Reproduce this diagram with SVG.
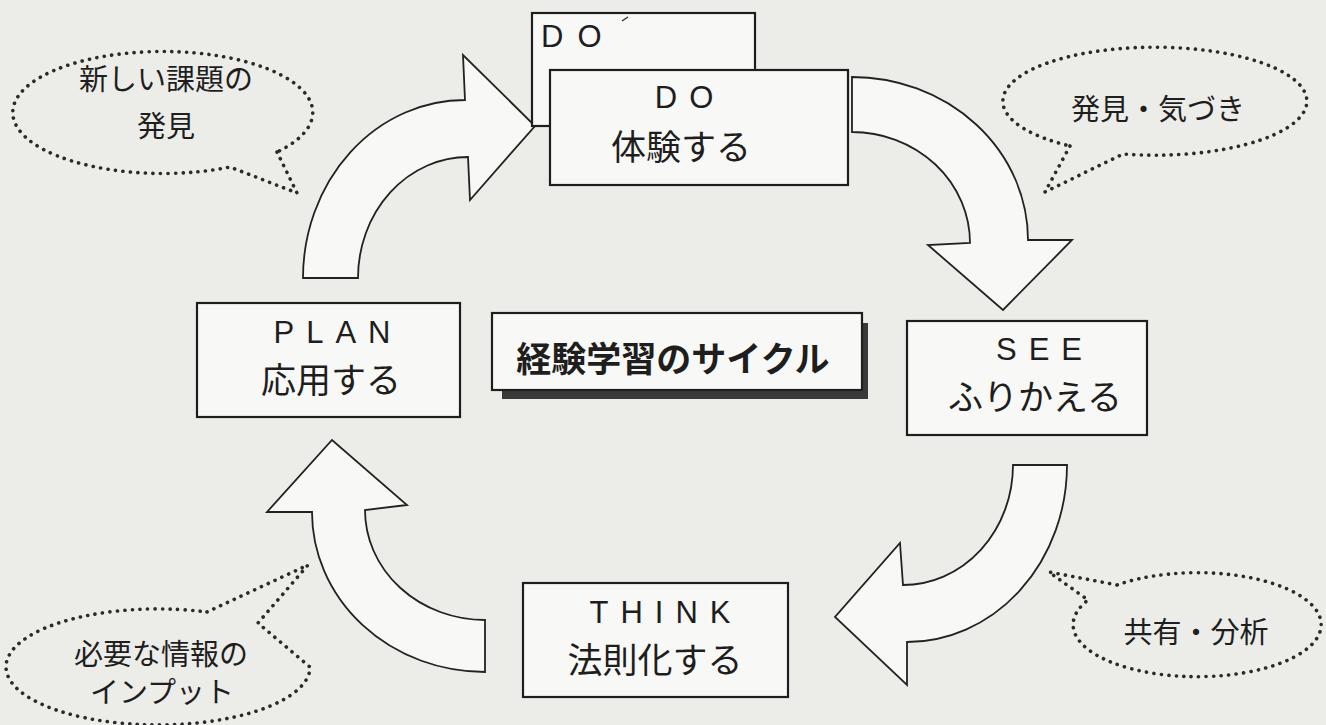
<svg xmlns="http://www.w3.org/2000/svg" width="1326" height="725" viewBox="0 0 1326 725">
<defs>
<style>
.bg{fill:#ecece9}
.box{fill:#f8f8f6;stroke:#1e1e1e;stroke-width:2.2}
.arrow{fill:#f8f8f6;stroke:#222;stroke-width:1.8;stroke-linejoin:miter}
.bubble{fill:none;stroke:#2a2a2a;stroke-width:3.6;stroke-dasharray:0.1 7.4;stroke-linecap:round}
.jp{font-family:"Noto Sans CJK JP","Noto Sans",sans-serif;fill:#1e1e1e}
.lat{font-family:"Liberation Sans",Arial,sans-serif;fill:#1e1e1e}
.lbl{font-size:35px;text-anchor:middle}
.bt{font-size:29px;text-anchor:middle}
.en{font-size:31px;text-anchor:middle;letter-spacing:12px}
.title{font-size:35px;font-weight:bold;text-anchor:middle}
</style>
</defs>
<rect class="bg" x="0" y="0" width="1326" height="725"/>

<g id="connectors">
  <path id="arrow-plan-do" class="arrow" d="M303,278 A162,178 0 0 1 465,100 L463,55 L535,126 L470,200 L468,157 A110,121 0 0 0 358,278 Z"/>
  <path id="arrow-do-see" class="arrow" d="M852,77 A176,163 0 0 1 1028,240 L1072,240 L1003,310 L928,245 L970,243 A118,111 0 0 0 852,132 Z"/>
  <path id="arrow-see-think" class="arrow" d="M1013,465 L1067,465 A160,177 0 0 1 907,642 L907,685 L835,617 L900,543 L903,585 A110,120 0 0 0 1013,465 Z"/>
  <path id="arrow-think-plan" class="arrow" d="M485,620 L485,672 A173,160 0 0 1 312,512 L267,512 L332,440 L407,505 L365,510 A120,110 0 0 0 485,620 Z"/>
</g>

<g id="node-do-back">
  <rect class="box" x="532" y="13" width="223" height="113"/>
  <text class="lat" x="541" y="47" font-size="31" letter-spacing="14">DO</text>
  <path d="M622,21 L628,17" stroke="#333" stroke-width="1.5"/>
</g>

<g id="node-do">
  <rect class="box" x="550" y="70" width="298" height="115"/>
  <text class="lat en" x="690" y="108">DO</text>
  <text class="jp lbl" x="681" y="160">体験する</text>
</g>

<g id="node-see">
  <rect class="box" x="907" y="321" width="240" height="114"/>
  <text class="lat en" x="1045" y="360">SEE</text>
  <text class="jp lbl" x="1035" y="410">ふりかえる</text>
</g>

<g id="node-think">
  <rect class="box" x="523" y="583" width="265" height="114"/>
  <text class="lat en" x="666" y="623">THINK</text>
  <text class="jp lbl" x="655" y="673">法則化する</text>
</g>

<g id="node-plan">
  <rect class="box" x="197" y="303" width="263" height="114"/>
  <text class="lat en" x="338" y="343">PLAN</text>
  <text class="jp lbl" x="331" y="393">応用する</text>
</g>

<g id="node-title">
  <rect x="502" y="323" width="366" height="76" fill="#3a3a3a"/>
  <rect class="box" x="492" y="313" width="370" height="77"/>
  <text class="jp title" x="673" y="372">経験学習のサイクル</text>
</g>

<g id="bubble-new-issue">
  <path class="bubble" d="M277,152 L297,193 L230,167 A150,61 0 1 1 277,152 Z"/>
  <text class="jp bt" x="166" y="90">新しい課題の</text>
  <text class="jp bt" x="166" y="137">発見</text>
</g>

<g id="bubble-discovery">
  <path class="bubble" d="M1070,146 L1045,192 L1123,154 A152,54 0 1 0 1070,146 Z"/>
  <text class="jp bt" x="1158" y="120">発見・気づき</text>
</g>

<g id="bubble-share">
  <path class="bubble" d="M1117,585 L1049,572 L1088,600 A124,52 0 1 0 1117,585 Z"/>
  <text class="jp bt" x="1196" y="643">共有・分析</text>
</g>

<g id="bubble-input">
  <path class="bubble" d="M207,612 L308,565 L258,623 L310,667 A152,58 0 1 1 207,612 Z"/>
  <text class="jp bt" x="161" y="665">必要な情報の</text>
  <text class="jp bt" x="162" y="703">インプット</text>
</g>
</svg>
